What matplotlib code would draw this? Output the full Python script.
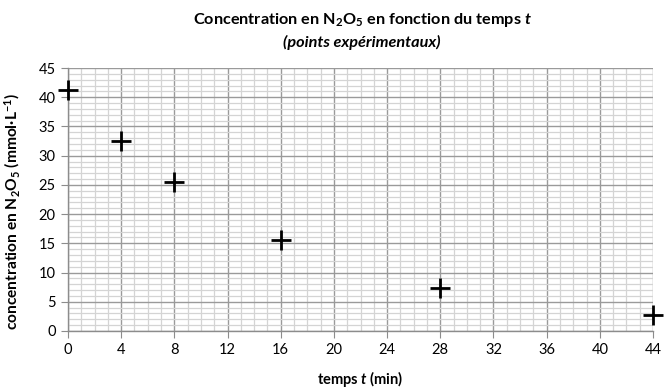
import matplotlib
matplotlib.use("Agg")
import matplotlib.pyplot as plt
from matplotlib.ticker import MultipleLocator

t = [0, 4, 8, 16, 28, 44]
conc = [41.2, 32.5, 25.5, 15.6, 7.4, 2.8]
xticks = [0, 4, 8, 12, 16, 20, 24, 28, 32, 36, 40, 44]
yticks = [0, 5, 10, 15, 20, 25, 30, 35, 40, 45]

plt.rcParams['font.family'] = ['Lato', 'DejaVu Sans']
plt.rcParams['mathtext.fontset'] = 'custom'
plt.rcParams['mathtext.rm'] = 'Lato:bold'
plt.rcParams['mathtext.it'] = 'Lato:bold:italic'
plt.rcParams['mathtext.bf'] = 'Lato:bold'

fig = plt.figure(figsize=(6.69, 3.91), dpi=100)
ax = fig.add_axes([68/669, 1-331/391, (653-68)/669, (331-68)/391])

ax.set_xlim(0, 44)
ax.set_ylim(0, 45)
ax.set_xticks(xticks)
ax.set_yticks(yticks)
ax.xaxis.set_minor_locator(MultipleLocator(1))
ax.yaxis.set_minor_locator(MultipleLocator(1))
ax.grid(which='major', color='#9a9a9a', linewidth=1.0)
ax.grid(which='minor', color='#d4d4d4', linewidth=0.9)
ax.set_axisbelow(True)
for s in ['top', 'right']:
    ax.spines[s].set_visible(False)
for s in ['left', 'bottom']:
    ax.spines[s].set_color('#8c8c8c')
    ax.spines[s].set_linewidth(1.0)
ax.tick_params(which='major', direction='out', length=5, color='#8c8c8c', labelsize=10.5, pad=4)
ax.tick_params(which='minor', length=0)

ax.plot(t, conc, linestyle='none', marker='+', markersize=15, markeredgewidth=2, color='black', clip_on=False, zorder=5)

ax.set_xlabel(r'temps $t$ (min)', fontsize=10.5, fontweight='bold', labelpad=8)
ax.set_ylabel(r'concentration en N$_2$O$_5$ (mmol·L$^{-1}$)', fontsize=11.2, fontweight='bold')
ax.yaxis.set_label_coords(-0.0786, 0.4525)

fig.text(362/669, 1-20/391, r'Concentration en N$_2$O$_5$ en fonction du temps $t$', ha='center', va='center', fontsize=11.7, fontweight='bold')
fig.text(362/669, 1-42/391, '(points expérimentaux)', ha='center', va='center', fontsize=11.7, fontweight='bold', fontstyle='italic')

fig.savefig('out.png', dpi=100)
